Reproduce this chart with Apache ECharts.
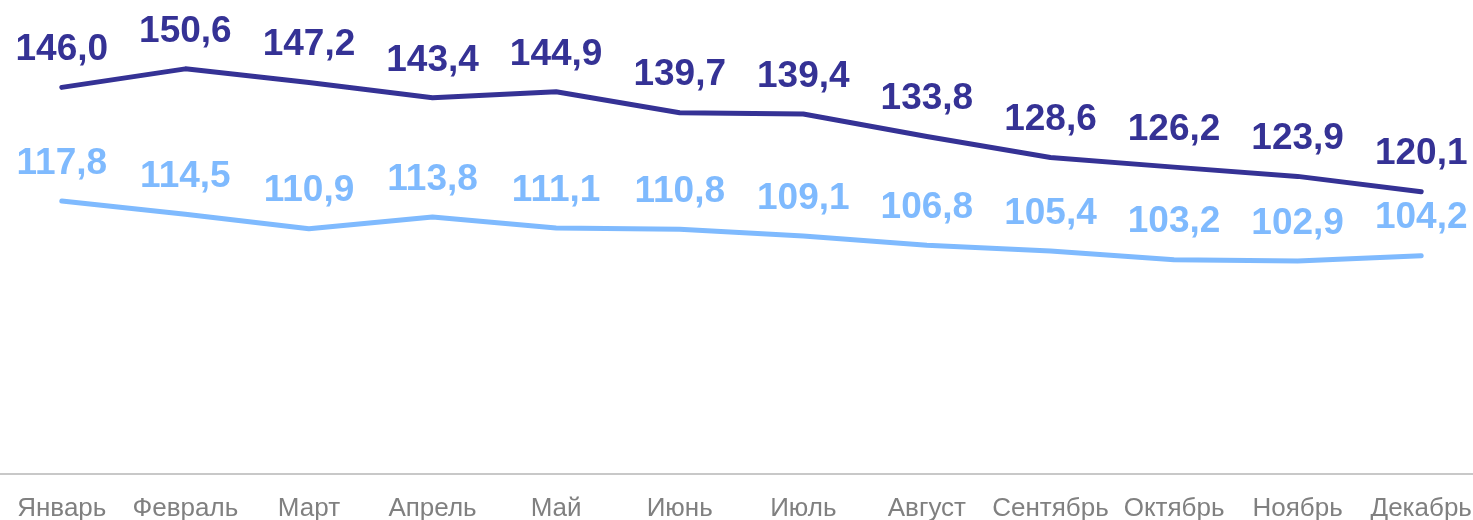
<!DOCTYPE html>
<html>
<head>
<meta charset="utf-8">
<script src="https://cdn.jsdelivr.net/npm/echarts@6/dist/echarts.min.js"></script>
<style>
  html, body { margin: 0; padding: 0; background: #fff; }
  #chart { width: 1473px; height: 520px; }
</style>
</head>
<body>
<div id="chart"></div>
<script>
let months = ['Январь', 'Февраль', 'Март', 'Апрель', 'Май', 'Июнь', 'Июль', 'Август', 'Сентябрь', 'Октябрь', 'Ноябрь', 'Декабрь'];
let darkValues = [146.0, 150.6, 147.2, 143.4, 144.9, 139.7, 139.4, 133.8, 128.6, 126.2, 123.9, 120.1];
let lightValues = [117.8, 114.5, 110.9, 113.8, 111.1, 110.8, 109.1, 106.8, 105.4, 103.2, 102.9, 104.2];

const FONT = '"Liberation Sans", Arial, sans-serif';
const DARK = '#353295';
const LIGHT = '#7fbafe';

function makeSeries(name, data, color) {
    return {
        name: name,
        type: 'line',
        data: data,
        symbol: 'circle',
        symbolSize: 0,
        itemStyle: {color: color},
        lineStyle: {color: color, width: 5, cap: 'round', join: 'round'},
        label: {
            show: true,
            position: 'top',
            distance: 19,
            color: color,
            fontFamily: FONT,
            fontWeight: 'bold',
            fontSize: 37,
            formatter: p => p.value.toFixed(1).replace('.', ',')
        },
        animation: false
    };
}

let chart = echarts.init(document.getElementById('chart'));
chart.setOption({
    animation: false,
    grid: {left: 0, top: 31, right: -10, bottom: 46, outerBoundsMode: 'none', containLabel: false},
    xAxis: {
        type: 'category',
        data: months,
        boundaryGap: true,
        axisLine: {lineStyle: {color: '#c8c8c8', width: 2}},
        axisTick: {show: false},
        axisLabel: {color: '#808080', fontFamily: FONT, fontSize: 26, margin: 22, interval: 0}
    },
    yAxis: {
        type: 'value',
        min: 50,
        max: 160,
        show: false,
        splitLine: {show: false}
    },
    series: [
        makeSeries('dark', darkValues, DARK),
        makeSeries('light', lightValues, LIGHT)
    ]
});
</script>
</body>
</html>
